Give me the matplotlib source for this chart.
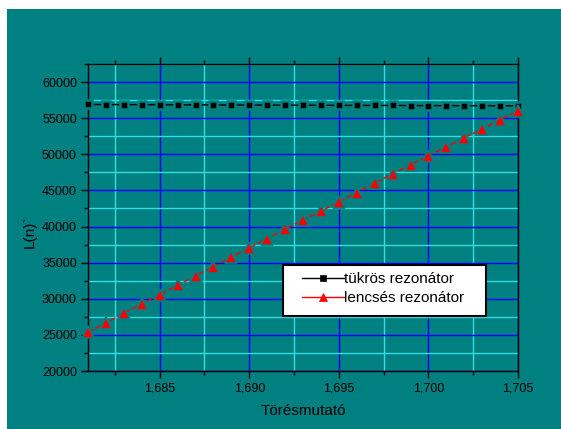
import numpy as np
import matplotlib
matplotlib.use("Agg")
import matplotlib.pyplot as plt
from matplotlib.ticker import MultipleLocator, FuncFormatter
from matplotlib.patches import Rectangle

plt.rcParams['font.family'] = ['Liberation Sans', 'DejaVu Sans']

# refractive index values
n = [1.681, 1.682, 1.683, 1.684, 1.685, 1.686, 1.687, 1.688, 1.689, 1.690,
     1.691, 1.692, 1.693, 1.694, 1.695, 1.696, 1.697, 1.698, 1.699, 1.700,
     1.701, 1.702, 1.703, 1.704, 1.705]

# mirror resonator (squares)
tukros = [56900, 56890, 56880, 56870, 56860, 56850, 56845, 56835, 56825, 56820,
          56810, 56800, 56795, 56785, 56775, 56770, 56765, 56760, 56750, 56745,
          56740, 56735, 56730, 56725, 56720]

# lens resonator (triangles)
lencses = [25360, 26650, 28000, 29280, 30570, 31870, 33160, 34450, 35750, 37040,
           38330, 39620, 40920, 42130, 43420, 44710, 46000, 47290, 48540, 49830,
           51000, 52290, 53490, 54780, 56030]

teal = '#008080'

fig = plt.figure(figsize=(5.61, 4.29), dpi=100)
fig.patch.set_facecolor('white')
fig.patches.append(Rectangle((7/561, 0), 1, 1 - 9/429, transform=fig.transFigure,
                             facecolor=teal, edgecolor='none', zorder=-10))

ax = fig.add_axes([88/561, 58/429, 430/561, 307/429])
ax.set_facecolor(teal)

ax.plot(n, tukros, color='black', lw=1.0, marker='s', markersize=6.3,
        markerfacecolor='black', markeredgecolor=teal, markeredgewidth=1.8,
        label='tükrös rezonátor', clip_on=False, zorder=3)
ax.plot(n, lencses, color='red', lw=1.0, ls=(0, (4, 2)), marker='^', markersize=8.5,
        markerfacecolor='red', markeredgecolor=teal, markeredgewidth=1.2,
        label='lencsés rezonátor', clip_on=False, zorder=3)

ax.set_xlim(1.681, 1.705)
ax.set_ylim(20000, 62500)

ax.xaxis.set_major_locator(MultipleLocator(0.005))
ax.xaxis.set_minor_locator(MultipleLocator(0.0025))
ax.yaxis.set_major_locator(MultipleLocator(5000))
ax.yaxis.set_minor_locator(MultipleLocator(2500))
ax.xaxis.set_major_formatter(FuncFormatter(lambda v, p: ('%.3f' % v).replace('.', ',')))
ax.yaxis.set_major_formatter(FuncFormatter(lambda v, p: '%d' % v))

ax.grid(which='minor', color='#33E0E0', lw=1.0, zorder=0)
ax.grid(which='major', color='#0000FF', lw=1.0, zorder=1)
ax.set_axisbelow(True)

ax.tick_params(which='both', direction='out', colors='black', labelsize=9,
               top=True, right=False, width=1.0)
ax.tick_params(which='major', length=5, pad=3)
ax.tick_params(which='minor', length=3)
for s in ax.spines.values():
    s.set_color('black')
    s.set_linewidth(1.0)

ax.set_xlabel('Törésmutató', fontsize=11, labelpad=7)
ax.set_ylabel('L(n)`', fontsize=11)
ax.yaxis.set_label_coords(-0.12, 0.455)

# legend box drawn by hand, legend entries placed inside it
ax.add_patch(Rectangle((0.4535, 0.179), 0.472, 0.1665, transform=ax.transAxes,
                       facecolor='white', edgecolor='black', lw=1.5, zorder=4,
                       clip_on=False))
leg = ax.legend(loc='upper left', bbox_to_anchor=(0.4985, 0.322), fontsize=11,
                handlelength=2.7, handletextpad=0.0, borderpad=0,
                labelspacing=0.35, frameon=False, borderaxespad=0,
                markerscale=0.7)
leg.set_zorder(5)
for h in leg.legend_handles:
    h.set_linestyle('-')
    h.set_markeredgecolor(h.get_markerfacecolor())
    h.set_markeredgewidth(0.5)

fig.savefig('out.png', dpi=100)
